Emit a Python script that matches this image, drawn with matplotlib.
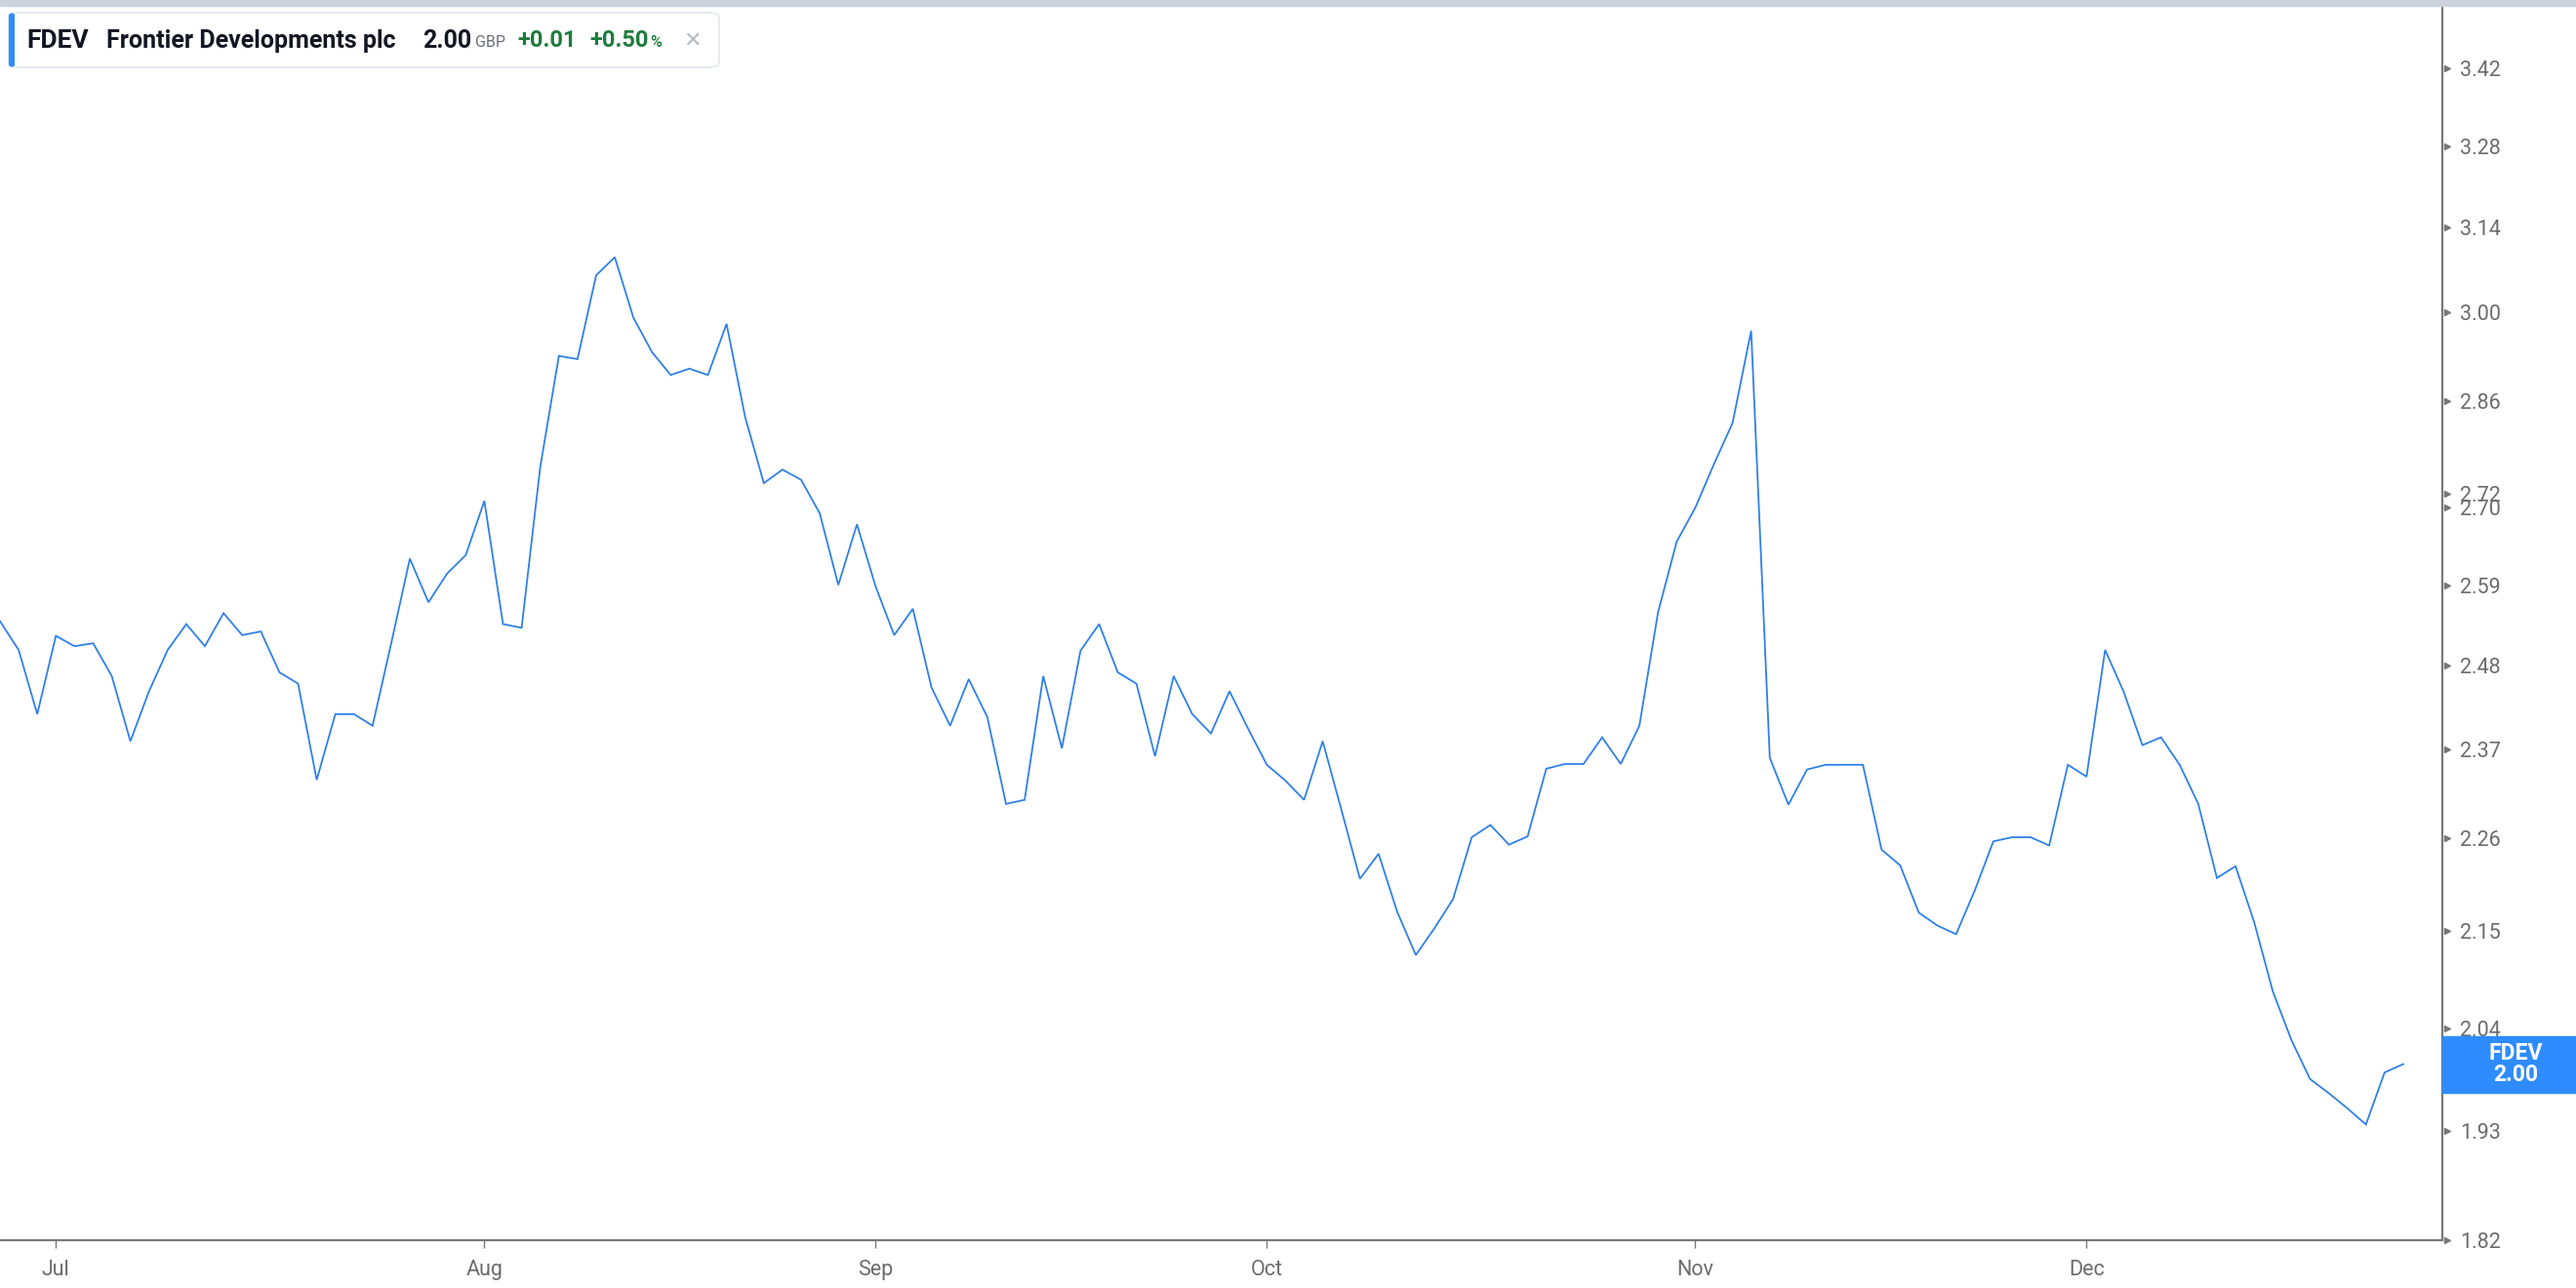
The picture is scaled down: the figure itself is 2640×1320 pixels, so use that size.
import matplotlib.pyplot as plt
import numpy as np
import pandas as pd
from matplotlib.patches import Rectangle, FancyBboxPatch
from matplotlib.transforms import blended_transform_factory
from matplotlib.ticker import NullLocator

plt.rcParams['font.family'] = ['Roboto', 'DejaVu Sans']

# trading days (LSE), 26 Jun 2024 - 27 Dec 2024
uk_holidays = ['2024-08-26', '2024-12-25', '2024-12-26']
dates = pd.bdate_range('2024-06-26', '2024-12-27', freq='C', holidays=uk_holidays)

prices = [
    2.540, 2.501, 2.416,
    # Jul
    2.520, 2.506, 2.510, 2.466, 2.381, 2.446, 2.501, 2.536, 2.506, 2.551,
    2.521, 2.526, 2.471, 2.456, 2.332, 2.416, 2.416, 2.401, 2.510, 2.627,
    2.566, 2.606, 2.632,
    # Aug
    2.710, 2.536, 2.531, 2.760, 2.930, 2.925, 3.060, 3.090, 2.991, 2.936,
    2.900, 2.910, 2.900, 2.981, 2.835, 2.736, 2.756, 2.741, 2.692, 2.590,
    2.676,
    # Sep
    2.588, 2.521, 2.557, 2.451, 2.401, 2.462, 2.412, 2.302, 2.307, 2.466,
    2.372, 2.500, 2.536, 2.471, 2.456, 2.362, 2.466, 2.416, 2.391, 2.446,
    2.397,
    # Oct
    2.351, 2.331, 2.307, 2.381, 2.295, 2.211, 2.241, 2.172, 2.122, 2.153,
    2.187, 2.261, 2.276, 2.252, 2.262, 2.346, 2.352, 2.352, 2.386, 2.352,
    2.401, 2.552, 2.651,
    # Nov
    2.700, 2.764, 2.826, 2.970, 2.360, 2.301, 2.345, 2.351, 2.351, 2.351,
    2.246, 2.227, 2.171, 2.156, 2.146, 2.197, 2.256, 2.261, 2.261, 2.251,
    2.351,
    # Dec
    2.336, 2.501, 2.445, 2.376, 2.386, 2.351, 2.302, 2.212, 2.226, 2.160,
    2.081, 2.027, 1.985, 1.970, 1.954, 1.937, 1.992, 2.001,
]
assert len(prices) == len(dates)

ytick_vals = [1.82, 1.93, 2.04, 2.15, 2.26, 2.37, 2.48, 2.59, 2.70, 2.72,
              2.86, 3.00, 3.14, 3.28, 3.42]

ticker = 'FDEV'
name = 'Frontier Developments plc'
currency = 'GBP'
change = '+0.01'
change_pct = '+0.50'

W, H = 2640, 1320
LINE = '#2f80e9'
AXIS = '#787878'
BLUE = '#2f8cff'
GREEN = '#1e7b3c'


def fx(px):
    return px / W


def fy(py):
    return 1 - py / H


fig = plt.figure(figsize=(W / 100, H / 100), dpi=100)
ax = fig.add_axes([0, 49 / H, 2503 / W, 1271 / H])

x = np.arange(len(prices))
ax.plot(x, prices, color=LINE, lw=1.3, solid_joinstyle='miter')

ax.set_yscale('log')
ax.set_ylim(1.82, 3.549)
ax.set_xlim(0, 131.1)

# y axis on the right
ax.yaxis.tick_right()
ax.set_yticks(ytick_vals)
ax.set_yticklabels([f'{v:.2f}' for v in ytick_vals])
ax.yaxis.set_minor_locator(NullLocator())
ax.tick_params(axis='y', length=0, pad=13, labelsize=15.5, labelcolor='#6c6c6c')
trans = blended_transform_factory(ax.transAxes, ax.transData)
ax.plot([1.002] * len(ytick_vals), ytick_vals, ls='none', marker='>', ms=4.5,
        color=AXIS, transform=trans, clip_on=False)

# month ticks at first trading day of each month
months = pd.Series(dates.month)
first_idx = [i for i in range(1, len(dates)) if months[i] != months[i - 1]]
ax.set_xticks(first_idx)
ax.set_xticklabels([dates[i].strftime('%b') for i in first_idx])
ax.xaxis.set_minor_locator(NullLocator())
ax.tick_params(axis='x', length=6, width=1, color=AXIS, pad=8.5,
               labelsize=15.5, labelcolor='#6c6c6c')

for s in ['left', 'top']:
    ax.spines[s].set_visible(False)
for s in ['bottom', 'right']:
    ax.spines[s].set_color(AXIS)
    ax.spines[s].set_linewidth(1.6)

# top border band
fig.patches.append(Rectangle((0, fy(6)), 1, 6 / H, transform=fig.transFigure,
                             color='#cdd2dc', zorder=5))

# last price box on the axis
last = prices[-1]
yf = fig.transFigure.inverted().transform(ax.transData.transform((0, last)))[1]
fig.patches.append(Rectangle((fx(2503), yf - 29 / H), fx(W - 2503), 58 / H,
                             transform=fig.transFigure, color=BLUE, zorder=10))
fig.text(fx(2578), yf, f'{ticker}\n{last:.2f}', ha='center', va='center',
         color='white', fontsize=16.5, fontweight='bold', linespacing=0.98,
         zorder=11)

# header legend box
fig.patches.append(FancyBboxPatch((fx(9), fy(69)), fx(728), 56 / H,
                                  boxstyle='round,pad=0,rounding_size=0.004',
                                  transform=fig.transFigure, facecolor='white',
                                  edgecolor='#e3e6ec', lw=1.2, zorder=5))
fig.patches.append(FancyBboxPatch((fx(9), fy(69)), fx(6), 56 / H,
                                  boxstyle='round,pad=0,rounding_size=0.002',
                                  transform=fig.transFigure, facecolor=BLUE,
                                  edgecolor='none', zorder=6))
ty = fy(42)
fig.text(fx(27), ty, ticker, fontsize=19, fontweight='bold', color='#131722',
         va='center', zorder=7)
fig.text(fx(109), ty, name, fontsize=18, fontweight='bold', color='#131722',
         va='center', zorder=7)
fig.text(fx(433), ty, f'{last:.2f}', fontsize=18, fontweight='bold',
         color='#131722', va='center', zorder=7)
fig.text(fx(487), fy(44), currency, fontsize=11.5, color='#6a6d78', va='center',
         zorder=7)
fig.text(fx(530), ty, change, fontsize=17, fontweight='bold', color=GREEN,
         va='center', zorder=7)
fig.text(fx(604), ty, change_pct, fontsize=17, fontweight='bold', color=GREEN,
         va='center', zorder=7)
fig.text(fx(666), fy(44), '%', fontsize=11.5, fontweight='medium', color=GREEN,
         va='center', zorder=7)
fig.text(fx(700), ty, '\u2715', fontsize=16, color='#b8bbc3', va='center',
         family=['DejaVu Sans'], zorder=7)

fig.savefig('out.png', dpi=100, facecolor='white')
